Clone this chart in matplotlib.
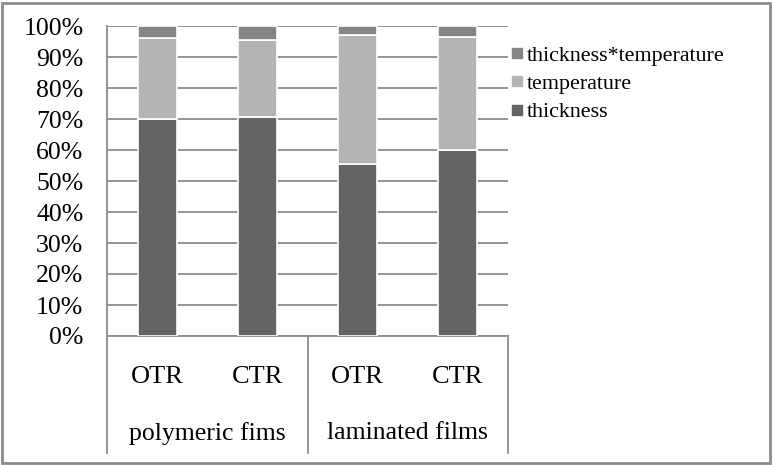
import matplotlib.pyplot as plt
from matplotlib.lines import Line2D
from matplotlib.patches import Rectangle

plt.rcParams['font.family'] = ['Liberation Serif', 'DejaVu Serif']

# data (percent of total)
cats = ['OTR', 'CTR', 'OTR', 'CTR']
groups = ['polymeric fims', 'laminated films']
thickness = [70.0, 70.5, 55.5, 60.0]
temperature = [26.0, 25.0, 41.5, 36.5]
interaction = [4.0, 4.5, 3.0, 3.5]
series_names = ['thickness', 'temperature', 'thickness*temperature']
colours = ['#646464', '#b4b4b4', '#858585']

fig = plt.figure(figsize=(7.73, 4.65), dpi=100)
ax = fig.add_axes([107/773, 1 - 336/465, 401/773, 310/465])

x = range(len(cats))
bottom2 = [a + b for a, b in zip(thickness, temperature)]
ax.bar(x, thickness, width=0.39, color=colours[0], edgecolor='white', linewidth=1.2, zorder=3)
ax.bar(x, temperature, width=0.39, bottom=thickness, color=colours[1], edgecolor='white', linewidth=1.2, zorder=3)
ax.bar(x, interaction, width=0.39, bottom=bottom2, color=colours[2], edgecolor='white', linewidth=1.2, zorder=3)

ax.set_xlim(-0.5, 3.5)
ax.set_ylim(0, 100)
ax.set_yticks(range(0, 101, 10))
ax.set_yticklabels(['%d%%' % v for v in range(0, 101, 10)], fontsize=18.5)
ax.tick_params(axis='y', length=0, pad=17)
ax.set_xticks([])
ax.yaxis.grid(True, color='#8c8c8c', linewidth=1.3, zorder=0)
for s in ['top', 'right']:
    ax.spines[s].set_visible(False)
for s in ['left', 'bottom']:
    ax.spines[s].set_color('#8c8c8c')
    ax.spines[s].set_linewidth(1.3)

# category axis below the bars
tr = ax.get_xaxis_transform()
for xv in [-0.5, 1.5, 3.5]:
    ax.plot([xv, xv], [0, -0.377], transform=tr, color='#8c8c8c', lw=1.3, clip_on=False)
for i, c in enumerate(cats):
    ax.text(i, -0.132, c, transform=tr, ha='center', va='center', fontsize=19)
for j, g in enumerate(groups):
    ax.text(0.5 + 2 * j, -0.313, g, transform=tr, ha='center', va='center', fontsize=18.5)

handles = [Line2D([], [], marker='s', linestyle='none', markersize=7,
                  color=colours[k]) for k in [2, 1, 0]]
fig.legend(handles, [series_names[k] for k in [2, 1, 0]], loc='upper left',
           bbox_to_anchor=(502/773, 1 - 37/465), frameon=False, fontsize=15.8,
           handlelength=0.6, handletextpad=0.15, labelspacing=0.35, borderaxespad=0)

fig.patches.append(Rectangle((0.002, 0.004), 0.994, 0.99, transform=fig.transFigure,
                             fill=False, edgecolor='#8c8c8c', linewidth=2))

fig.savefig('out.png', dpi=100)
